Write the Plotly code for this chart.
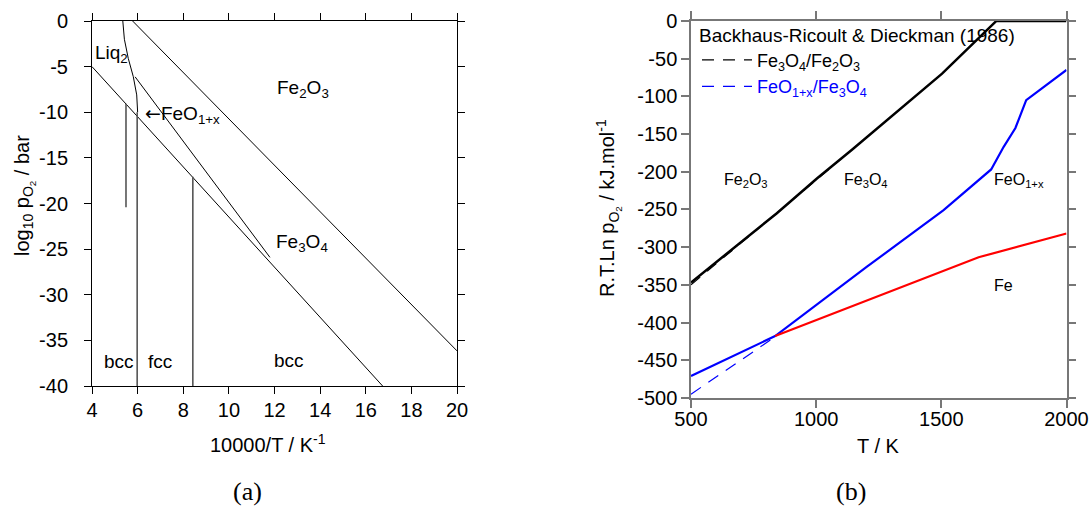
import plotly.graph_objects as go

W, H = 1089, 506
FONT = "Liberation Sans, Arial, Helvetica, sans-serif"

# ---------------- Panel (a): log10 pO2 vs 10000/T ----------------
# Fe / FeO  (continuing as Fe / Fe3O4)
a_fe_x = [4.0, 16.74]
a_fe_y = [-5.0, -40.0]
# Fe3O4 / Fe2O3
a_hem_x = [5.78, 20.0]
a_hem_y = [0.0, -36.15]
# FeO / Fe3O4
a_wus_x = [5.89, 11.8]
a_wus_y = [-6.12, -25.9]
# Liquid (Liq2) boundary
a_liq_x = [5.35, 5.42, 5.59, 5.81, 5.96, 6.0]
a_liq_y = [0.0, -2.0, -4.1, -6.1, -8.1, -10.0]
# vertical phase boundaries (bcc/fcc etc.)
a_v1_x = [5.49, 5.49]
a_v1_y = [-9.07, -20.4]
a_v2_x = [5.98, 5.98]
a_v2_y = [-10.0, -40.0]
a_v3_x = [8.42, 8.42]
a_v3_y = [-17.08, -40.0]

a_xticks = [4, 6, 8, 10, 12, 14, 16, 18, 20]
a_xticklabels = ["4", "6", "8", "10", "12", "14", "16", "18", "20"]
a_yticks = [0, -5, -10, -15, -20, -25, -30, -35, -40]
a_yticklabels = ["0", "-5", "-10", "-15", "-20", "-25", "-30", "-35", "-40"]

# ---------------- Panel (b): RT ln pO2 vs T ----------------
b_hem_T = [500, 843, 1003, 1143, 1503, 1720, 2000]
b_hem_v = [-347, -255, -209, -171, -70, 0, 0]
b_hem_exp_T = [500, 700, 900, 1100]
b_hem_exp_v = [-350, -295, -239, -183]

b_wus_T = [500, 836, 1203, 1509, 1699, 1749, 1796, 1839, 2000]
b_wus_v = [-471, -418, -326, -251, -197, -167, -142, -105, -65]
b_wus_exp_T = [500, 836]
b_wus_exp_v = [-495, -419]

b_fe_T = [836, 1003, 1649, 2000]
b_fe_v = [-418, -396.7, -313.5, -282]

b_xticks = [500, 1000, 1500, 2000]
b_xticklabels = ["500", "1000", "1500", "2000"]
b_yticks = [0, -50, -100, -150, -200, -250, -300, -350, -400, -450, -500]
b_yticklabels = ["0", "-50", "-100", "-150", "-200", "-250", "-300", "-350", "-400", "-450", "-500"]

fig = go.Figure()

thin = dict(color="black", width=1)
grayv = dict(color="#555555", width=1.6)
for xs, ys, ln in [
    (a_fe_x, a_fe_y, thin), (a_hem_x, a_hem_y, thin), (a_wus_x, a_wus_y, thin),
    (a_liq_x, a_liq_y, thin), (a_v1_x, a_v1_y, grayv), (a_v2_x, a_v2_y, grayv),
    (a_v3_x, a_v3_y, grayv),
]:
    fig.add_trace(go.Scatter(x=xs, y=ys, mode="lines", line=ln, showlegend=False,
                             xaxis="x", yaxis="y", hoverinfo="skip"))

# panel b
fig.add_trace(go.Scatter(x=b_hem_exp_T, y=b_hem_exp_v, mode="lines",
                         line=dict(color="black", width=1.2, dash="12px,9px"),
                         name="Fe<sub>3</sub>O<sub>4</sub>/Fe<sub>2</sub>O<sub>3</sub>",
                         xaxis="x2", yaxis="y2"))
fig.add_trace(go.Scatter(x=b_wus_exp_T, y=b_wus_exp_v, mode="lines",
                         line=dict(color="blue", width=1.2, dash="12px,9px"),
                         name='<span style="color:blue">FeO<sub>1+x</sub>/Fe<sub>3</sub>O<sub>4</sub></span>',
                         xaxis="x2", yaxis="y2"))
fig.add_trace(go.Scatter(x=b_hem_T, y=b_hem_v, mode="lines",
                         line=dict(color="black", width=2.5), showlegend=False,
                         xaxis="x2", yaxis="y2"))
fig.add_trace(go.Scatter(x=b_wus_T, y=b_wus_v, mode="lines",
                         line=dict(color="blue", width=2.2), showlegend=False,
                         xaxis="x2", yaxis="y2"))
fig.add_trace(go.Scatter(x=b_fe_T, y=b_fe_v, mode="lines",
                         line=dict(color="red", width=2.2), showlegend=False,
                         xaxis="x2", yaxis="y2"))

tickfont = dict(family=FONT, size=20, color="black")
axA = dict(showline=True, linecolor="black", linewidth=1, mirror="ticks",
           ticks="outside", ticklen=7, tickcolor="black", tickwidth=1,
           showgrid=False, zeroline=False, tickfont=tickfont, automargin=False)
axB = dict(showline=True, linecolor="#777777", linewidth=1.5, mirror="ticks",
           ticks="outside", ticklen=8, tickcolor="#777777", tickwidth=1.5,
           showgrid=False, zeroline=False, tickfont=tickfont, automargin=False)

fig.update_layout(
    width=W, height=H,
    margin=dict(l=0, r=0, t=0, b=0, autoexpand=False),
    paper_bgcolor="white", plot_bgcolor="white",
    font=dict(family=FONT, size=20, color="black"),
    xaxis=dict(axA, domain=[92 / W, 457 / W], range=[4, 20],
               tickmode="array", tickvals=a_xticks, ticktext=a_xticklabels,
               anchor="y", ticklabelstandoff=-1),
    yaxis=dict(axA, domain=[1 - 386 / H, 1 - 21 / H], range=[-40, 0],
               tickmode="array", tickvals=a_yticks, ticktext=a_yticklabels,
               anchor="x", ticklabelstandoff=12),
    xaxis2=dict(axB, domain=[691 / W, 1066.5 / W], range=[500, 2000],
                tickmode="array", tickvals=b_xticks, ticktext=b_xticklabels,
                anchor="y2", ticklabelstandoff=-6),
    yaxis2=dict(axB, domain=[1 - 397.9 / H, 1 - 20.9 / H], range=[-500, 0],
                tickmode="array", tickvals=b_yticks, ticktext=b_yticklabels,
                anchor="x2", ticklabelstandoff=0),
    showlegend=True,
    legend=dict(x=697 / W, y=1 - 17 / H, xanchor="left", yanchor="top",
                bgcolor="rgba(0,0,0,0)", borderwidth=0,
                font=dict(family=FONT, size=18, color="black"),
                title=dict(text="Backhaus-Ricoult &amp; Dieckman (1986)",
                           font=dict(family=FONT, size=19, color="black")),
                tracegroupgap=0, itemwidth=50),
)

ann = []
def lab(text, x, y, xref, yref, size, xanchor="left", yanchor="middle", angle=0, family=FONT):
    ann.append(dict(text=text, x=x, y=y, xref=xref, yref=yref, showarrow=False,
                    xanchor=xanchor, yanchor=yanchor, textangle=angle,
                    font=dict(family=family, size=size, color="black")))

# panel a region labels
lab("Liq<sub>2</sub>", 4.05, -3.6, "x", "y", 19)
lab('<span style="font-family:DejaVu Sans">\u2190</span>FeO<sub>1+x</sub>', 6.25, -10.25, "x", "y", 19)
lab("Fe<sub>2</sub>O<sub>3</sub>", 12.0, -7.5, "x", "y", 19)
lab("Fe<sub>3</sub>O<sub>4</sub>", 11.98, -24.35, "x", "y", 19)
lab("bcc", 5.19, -37.3, "x", "y", 19, xanchor="center")
lab("fcc", 7.0, -37.3, "x", "y", 19, xanchor="center")
lab("bcc", 12.64, -37.2, "x", "y", 19, xanchor="center")

# panel b region labels
lab("Fe<sub>2</sub>O<sub>3</sub>", 623, -211.5, "x2", "y2", 16)
lab("Fe<sub>3</sub>O<sub>4</sub>", 1103, -211.5, "x2", "y2", 16)
lab("FeO<sub>1+x</sub>", 1703, -211.5, "x2", "y2", 16)
lab("Fe", 1703, -351, "x2", "y2", 16)

# axis titles
lab("10000/T / K<sup>-1</sup>", 268 / W, 1 - 443 / H, "paper", "paper", 20, xanchor="center")
lab("log<sub>10</sub> p<sub>O<sub>2</sub></sub> / bar", 24 / W, 1 - 196 / H, "paper", "paper", 20,
    xanchor="center", angle=-90)
lab("T / K", 878 / W, 1 - 446 / H, "paper", "paper", 20, xanchor="center")
lab("R.T.Ln p<sub>O<sub>2</sub></sub> / kJ.mol<sup>-1</sup>", 608 / W, 1 - 208 / H, "paper", "paper", 20,
    xanchor="center", angle=-90)

# sub-figure captions
SERIF = "Liberation Serif, DejaVu Serif, serif"
lab("(a)", 247 / W, 1 - 491 / H, "paper", "paper", 26, xanchor="center", family=SERIF)
lab("(b)", 851 / W, 1 - 491 / H, "paper", "paper", 26, xanchor="center", family=SERIF)

fig.update_layout(annotations=ann)
fig.write_html("out.html", config={"displayModeBar": False},
               post_script="document.body.style.margin='0';document.body.style.overflow='hidden';")
